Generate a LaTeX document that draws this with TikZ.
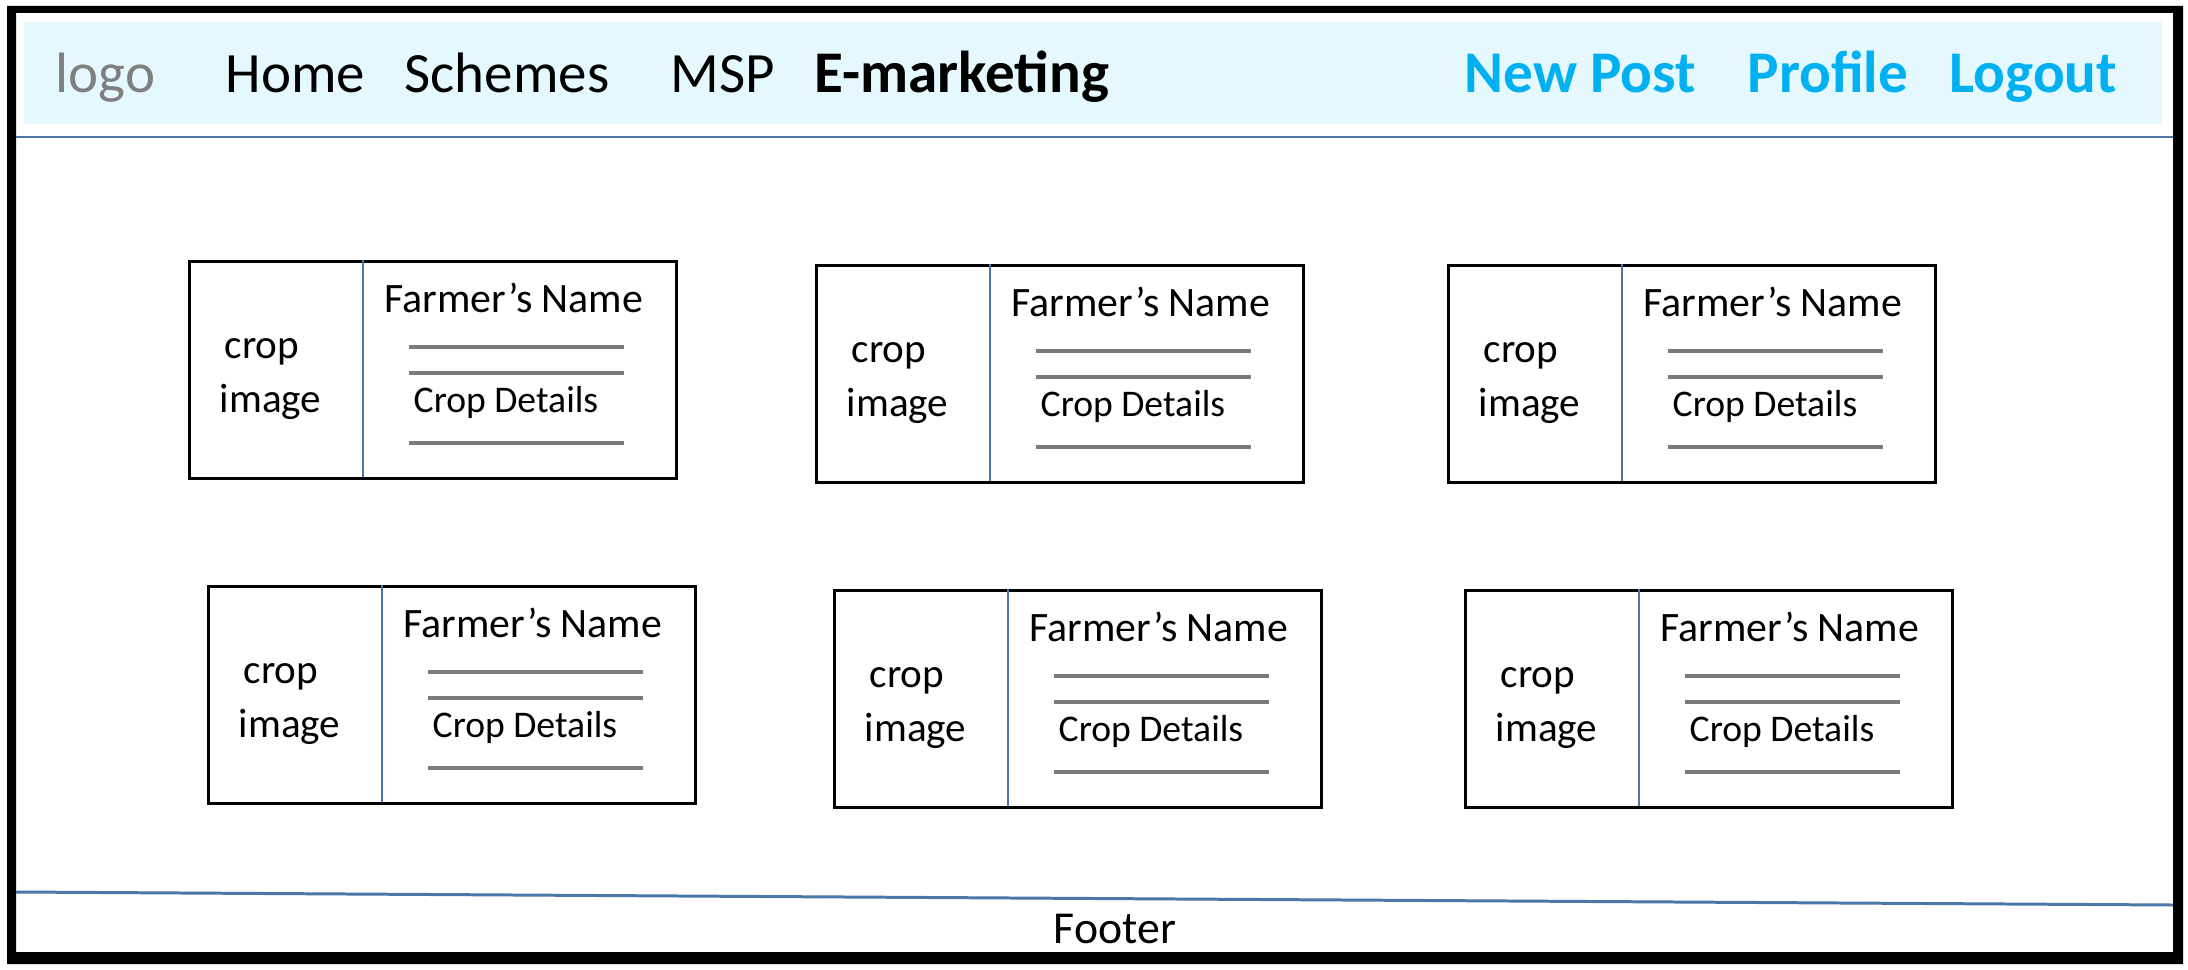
\documentclass[tikz,border=0pt]{standalone}
\usepackage{fontspec}
\setmainfont{Carlito}
\usetikzlibrary{positioning}
\definecolor{navfill}{RGB}{229,248,253}
\definecolor{rulecol}{RGB}{74,118,168}
\definecolor{linkcol}{RGB}{0,176,240}
\definecolor{logocol}{RGB}{127,127,127}
\definecolor{detcol}{RGB}{122,122,122}
\tikzset{
  navitem/.style={anchor=base west, inner sep=0pt, font=\fontsize{16.2}{19}\selectfont},
  navbold/.style={navitem, font=\fontsize{16.8}{19}\selectfont\bfseries},
  navlink/.style={navbold, text=linkcol},
  card/.style={draw, line width=0.85pt, anchor=north west, minimum width=4.87cm,
    minimum height=2.17cm, inner sep=0pt},
  cardtext/.style={anchor=base west, inner sep=0pt, font=\fontsize{11.7}{14}\selectfont},
  nametext/.style={cardtext, font=\fontsize{11.9}{14}\selectfont},
  dettext/.style={anchor=base west, inner sep=0pt, font=\fontsize{10.7}{13}\selectfont},
  divider/.style={draw=rulecol, line width=0.8pt},
  detline/.style={draw=detcol, line width=1pt},
  rule/.style={draw=rulecol, line width=0.85pt}
}
\begin{document}
\begin{tikzpicture}[x=0.01cm, y=-0.01cm]
    \useasboundingbox (0,0) rectangle (2188,970);
    % page frame and header bar
    \fill[even odd rule] (7,6) rectangle (2183,964) (16,13) rectangle (2173,952);
    \fill[navfill] (24,22) rectangle (2162,124);
    \coordinate (hl) at (16,137);
    \coordinate (hr) at (2173,137);
    \coordinate (fl) at (16,892);
    \coordinate (fr) at (2173,905);
    \draw[rule] (hl) -- (hr);
    \draw[rule] (fl) -- (fr);

    % menu
    \node[navitem, text=logocol] (logo) at (55,93) {logo};
    \node[navitem] (home) at (225,93) {Home};
    \node[navitem] (schemes) at (404,93) {Schemes};
    \node[navitem] (msp) at (670,93) {MSP};
    \node[navbold] (emkt) at (814,93) {E-marketing};
    \node[navlink] (newpost) at (1464,93) {New Post};
    \node[navlink] (profile) at (1747,93) {Profile};
    \node[navlink] (logout) at (1949,93) {Logout};

    \node[anchor=base, inner sep=0pt, font=\fontsize{13}{16}\selectfont] (footer) at (1115,943) {Footer};

    % crop cards
    \foreach \n/\x/\y/\w in {1/188/260/1pt, 2/815/264/1pt, 3/1447/264/1pt,
                             4/207/585/1.3pt, 5/833/589/1pt, 6/1464/589/1pt} {
      \begin{scope}[shift={(\x,\y)}]
        \node[card] (C\n) at (0,0) {};
        \draw[divider] (175,0) -- (175,217);
        \draw[detline] (221,87) -- (436,87);
        \draw[detline] (221,113) -- (436,113);
        \draw[detline, line width=\w] (221,183) -- (436,183);
        \node[cardtext] (C\n crop) at (36,98) {crop};
        \node[cardtext] (C\n img) at (31,152) {image};
        \node[nametext] (C\n name) at (196,52) {Farmer’s Name};
        \node[dettext] (C\n det) at (225,152) {Crop Details};
      \end{scope}
    }
\end{tikzpicture}
\end{document}
